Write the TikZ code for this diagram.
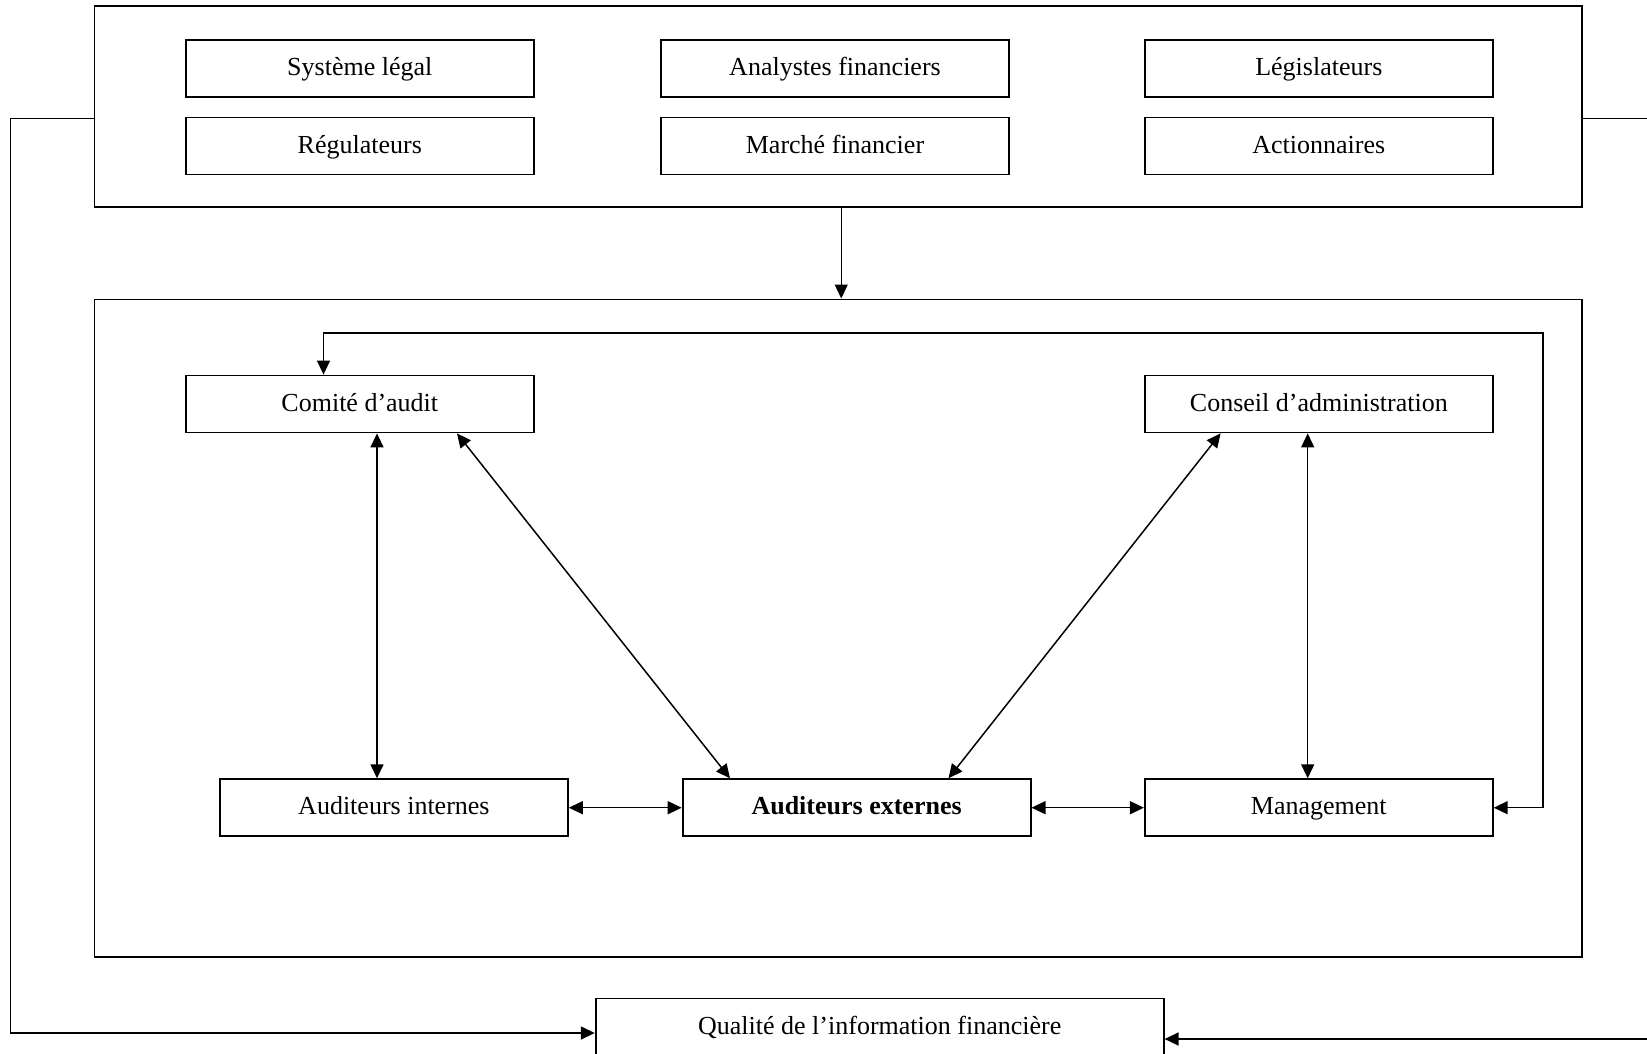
\documentclass[tikz,border=0pt]{standalone}
\usepackage{fontspec}
\setmainfont{Liberation Serif}
\usetikzlibrary{arrows.meta,calc}
\begin{document}
\begin{tikzpicture}[x=1pt,y=-1pt,
  box/.style={draw=black,line width=1.8pt,rectangle,inner sep=0pt,
    minimum width=348pt,minimum height=57pt,text height=19pt,text depth=5pt,
    font=\fontsize{26}{31}\selectfont},
  frame/.style={draw=black,line width=1.8pt,rectangle,inner sep=0pt},
  conn/.style={draw=black,line width=1.5pt},
  tip/.tip={Triangle[length=14pt,width=13pt]}]
\useasboundingbox (0,0) rectangle (1647,1053);
% frames
\node[frame,minimum width=1487.5pt,minimum height=200.7pt] (top) at (838.25,106.65) {};
\node[frame,minimum width=1487.5pt,minimum height=657.6pt] (inner) at (838.25,628.2) {};
% top boxes
\node[box] (sys) at (359.8,68.3) {Système légal};
\node[box] (ana) at (835,68.3) {Analystes financiers};
\node[box] (leg) at (1318.8,68.3) {Législateurs};
\node[box] (reg) at (359.8,146) {Régulateurs};
\node[box] (mar) at (835,146) {Marché financier};
\node[box] (act) at (1318.8,146) {Actionnaires};
% inner boxes
\node[box] (com) at (359.8,404) {Comité d’audit};
\node[box] (con) at (1318.8,404) {Conseil d’administration};
\node[box] (int) at (393.9,807.7) {Auditeurs internes};
\node[box] (ext) at (856.6,807.7) {\textbf{Auditeurs externes}};
\node[box] (man) at (1318.8,807.7) {Management};
\node[box,minimum width=568pt] (q) at (879.7,1027) {Qualité de l’information financière};
% coordinates for bends
\coordinate (fbr) at (1543,333);
\coordinate (lc) at (10.5,118.7);
\coordinate (lb) at (10.5,1033);
\coordinate (rc) at (1700,118.7);
\coordinate (rb) at (1700,1039);
% connectors
\draw[conn,-tip] ($(top.south)+(3,0)$) -- ($(inner.north)+(3,0)$);
\draw[conn,tip-tip] ($(com.south)+(17.2,0)$) -- ($(int.north)+(-16.9,0)$);
\draw[conn,tip-tip] ($(com.south)+(97.2,0)$) -- ($(ext.north)+(-126.6,0)$);
\draw[conn,tip-tip] ($(con.south)+(-98.2,0)$) -- ($(ext.north)+(91.9,0)$);
\draw[conn,tip-tip] ($(con.south)+(-11.1,0)$) -- ($(man.north)+(-11.1,0)$);
\draw[conn,tip-tip] (int.east) -- (ext.west);
\draw[conn,tip-tip] (ext.east) -- (man.west);
\draw[conn,tip-tip] ($(com.north)+(-36.3,0)$) |- (fbr) |- (man.east);
\draw[conn,-tip] (top.west |- lc) -- (lc) -- (lb) -- (q.west |- lb);
\draw[conn,-tip] (top.east |- rc) -- (rc) -- (rb) -- (q.east |- rb);
\end{tikzpicture}
\end{document}
